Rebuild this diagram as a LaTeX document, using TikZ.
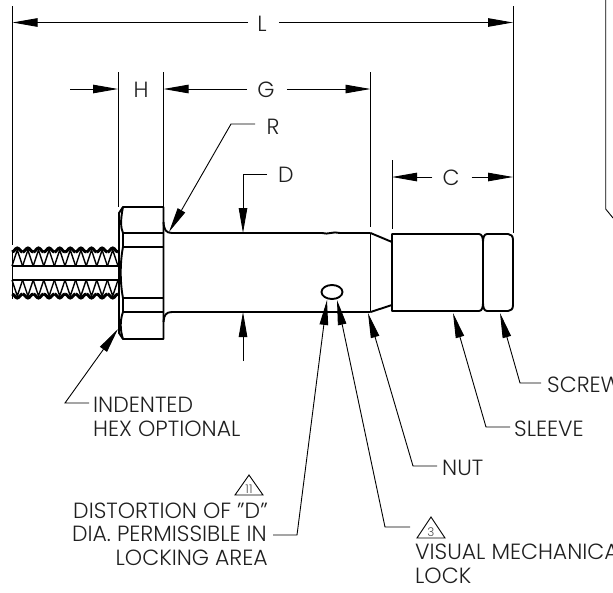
\documentclass[tikz,border=0pt]{standalone}
\usepackage{fontspec}
\setmainfont{Poppins Light}
\usetikzlibrary{arrows.meta}
\tikzset{
 x=1pt,y=-1pt,
 lbl/.style={inner sep=0pt,font=\fontsize{22}{23}\selectfont,text=black!88},
 ext/.style={line width=0.9pt},
 dim/.style={line width=0.9pt,line join=miter,-{Triangle[length=25pt,width=8.5pt,sep=0pt]}},
 obj/.style={line width=1.9pt,line join=round},
 tri/.style={line width=0.9pt,line join=miter},
}
\begin{document}
\begin{tikzpicture}
\useasboundingbox (0,0) rectangle (613,592);
\clip (0,0) rectangle (613,592);
% extension lines
\draw[ext] (12.5,6) -- (12.5,245);
\draw[ext] (513,6) -- (513,233);
\draw[ext] (118,72) -- (118,207);
\draw[ext] (163.5,72) -- (163.5,207);
\draw[ext] (370.5,72) -- (370.5,227);
\draw[ext] (392,160) -- (392,229);
% text
\node[lbl] (L) at (262,24) {L};
\node[lbl] (H) at (141,90) {H};
\node[lbl] (G) at (266,90) {G};
\node[lbl] (C) at (451,178) {C};
\node[lbl] (R) at (273,127) {R};
\node[lbl] (D) at (286,175) {D};
% dimensions
\coordinate (a1) at (12.5,22.5); \coordinate (a2) at (513,22.5);
\draw[dim] (L.west)++(-9,-1.5) -- (a1);
\draw[dim] (L.east)++(12,-1.5) -- (a2);
\coordinate (h0) at (70,89); \coordinate (h1) at (118,89); \coordinate (h2) at (163.5,89); \coordinate (g2) at (370.5,89);
\draw[dim] (h0) -- (h1);
\draw[dim] (G.west)++(-10,-1) -- (h2);
\draw[dim] (G.east)++(12,-1) -- (g2);
\coordinate (c1) at (392,177); \coordinate (c2) at (513,177);
\draw[dim] (C.west)++(-10,-1) -- (c1);
\draw[dim] (C.east)++(12,-1) -- (c2);
% leaders R D
\coordinate (r0) at (255,124); \coordinate (r1) at (231,124); \coordinate (r2) at (169,232);
\draw[dim] (r0) -- (r1) -- (r2);
\coordinate (d0) at (267,174); \coordinate (d1) at (243,174); \coordinate (d2) at (243,233);
\draw[dim] (d0) -- (d1) -- (d2);
\coordinate (d3) at (243,361); \coordinate (d4) at (243,312);
\draw[dim] (d3) -- (d4);
% threads
\foreach \i in {0,...,9}{
 \pgfmathsetmacro{\xa}{12+\i*10.6}
 \pgfmathsetmacro{\xb}{\xa+5.3}
 \pgfmathsetmacro{\xc}{\xa+10.6}
 \draw[line width=1.4pt] (\xa,266) -- (\xb,250) -- (\xc,266);
 \draw[line width=1.4pt] (\xa,280) -- (\xb,296) -- (\xc,280);
 \draw[line width=3pt] (\xa,252) .. controls (\xa+2,252) and (\xb-2,248) .. (\xb,248) .. controls (\xb+2,248) and (\xc-2,252) .. (\xc,252);
 \draw[line width=3pt] (\xa,294) .. controls (\xa+2,294) and (\xb-2,298) .. (\xb,298) .. controls (\xb+2,298) and (\xc-2,294) .. (\xc,294);
}
\draw[obj] (12,266) -- (118,266) (12,280) -- (118,280);
\draw[line width=1.8pt] (12.5,250) -- (12.5,299);
% hex head
\draw[obj] (119,213) -- (123,207) -- (163.5,207) -- (163.5,339) -- (123,339) -- (119,333) -- cycle;
\draw[obj] (123,207) .. controls (120,222) and (121,228) .. (123,233) -- (163.5,233);
\draw[obj] (123,233) -- (123,247) -- (163.5,247);
\draw[obj] (123,247) .. controls (120,262) and (120,283) .. (123,298) -- (163.5,298);
\draw[obj] (123,298) -- (123,312) -- (163.5,312);
\draw[obj] (123,312) .. controls (120,320) and (120,330) .. (123,339);
% shaft
\draw[obj] (163.5,222) .. controls (164,230) and (166,233) .. (172,233) -- (322,233) .. controls (328,235) and (333,231) .. (340,233) -- (370.5,233);
\draw[obj] (163.5,322) .. controls (164,315) and (166,312) .. (172,312) -- (370.5,312);
% nut
\draw[obj] (370.5,233) -- (370.5,312);
\draw[obj] (370.5,233) -- (392,242);
\draw[obj] (370.5,312) -- (392,305);
% sleeve and screw
\draw[obj] (392,234) -- (479,234) .. controls (482,234) and (483,238) .. (483,242) -- (483,303) .. controls (483,307) and (482,311) .. (479,311) -- (392,311) -- cycle;
\draw[obj] (483,242) .. controls (483,238) and (484,234) .. (487,234) -- (508,234) .. controls (511,234) and (513,236) .. (513,240) -- (513,305) .. controls (513,309) and (511,311) .. (508,311) -- (487,311) .. controls (484,311) and (483,307) .. (483,303);
% lock hole
\draw[obj] (332,292) ellipse (10.5 and 7);
% bottom leaders
\coordinate (s0) at (541,383); \coordinate (s1) at (520,383); \coordinate (s2) at (500,313);
\draw[dim] (s0) -- (s1) -- (s2);
\coordinate (v0) at (510,427); \coordinate (v1) at (486,427); \coordinate (v2) at (453,313);
\draw[dim] (v0) -- (v1) -- (v2);
\coordinate (n0) at (437,466); \coordinate (n1) at (413,466); \coordinate (n2) at (368,313);
\draw[dim] (n0) -- (n1) -- (n2);
\coordinate (m0) at (410,527); \coordinate (m1) at (385,527); \coordinate (m2) at (337,300);
\draw[dim] (m0) -- (m1) -- (m2);
\coordinate (k0) at (273,535); \coordinate (k1) at (297,535); \coordinate (k2) at (327,300);
\draw[dim] (k0) -- (k1) -- (k2);
\coordinate (i0) at (89,403); \coordinate (i1) at (65,403); \coordinate (i2) at (118,329);
\draw[dim] (i0) -- (i1) -- (i2);
% labels
\node[lbl,anchor=west] (screw) at (547,385) {SCREW};
\node[lbl,anchor=west] (sleeve) at (514,429) {SLEEVE};
\node[lbl,anchor=west] (nut) at (442,468) {NUT};
\node[lbl,anchor=west] (ind) at (93,405) {INDENTED};
\node[lbl,anchor=west] (hex) at (93,429) {HEX OPTIONAL};
\node[lbl,anchor=east] (dist) at (268,511) {DISTORTION OF "D"};
\node[lbl,anchor=east] (dia) at (267,534) {DIA. PERMISSIBLE IN};
\node[lbl,anchor=east] (lock) at (268,558) {LOCKING AREA};
\node[lbl,anchor=west] (vis) at (415,552) {VISUAL MECHANICAL};
\node[lbl,anchor=west] (lk) at (415,576) {LOCK};
% delta triangles
\draw[tri] (249,475) -- (263,495) -- (235,495) -- cycle;
\node[inner sep=0pt,font=\fontsize{12}{12}\selectfont,text=black!70] (n11) at (249,489) {11};
\draw[tri] (431,517) -- (445,538) -- (417,538) -- cycle;
\node[inner sep=0pt,font=\fontsize{12}{12}\selectfont,text=black!70] (n3) at (431,532) {3};
% bracket
\coordinate (b0) at (605.7,0); \coordinate (b1) at (605.7,209); \coordinate (b2) at (613,218);
\draw[ext] (b0) -- (b1) -- (b2);
\end{tikzpicture}
\end{document}
